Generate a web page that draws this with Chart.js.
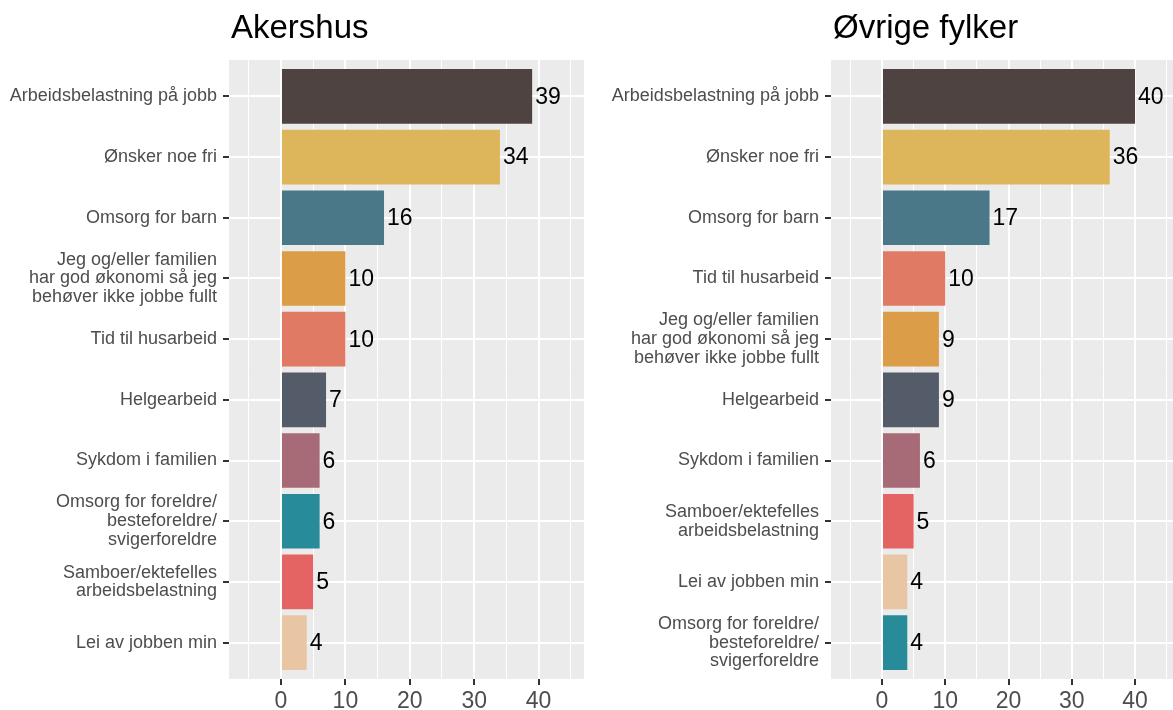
<!DOCTYPE html>
<html>
<head>
<meta charset="utf-8">
<script src="https://cdn.jsdelivr.net/npm/chart.js@4/dist/chart.umd.min.js"></script>
<style>
  html, body { margin: 0; padding: 0; background: #ffffff; }
  #wrap { position: relative; width: 1173px; height: 710px; overflow: hidden; }
  .panel { position: absolute; top: 0; height: 710px; }
  #left { left: 0; width: 600px; }
  #right { left: 600px; width: 573px; }
</style>
</head>
<body>
<div id="wrap">
  <div class="panel" id="left"><canvas id="akershus-chart"></canvas></div>
  <div class="panel" id="right"><canvas id="ovrige-chart"></canvas></div>
</div>
<script>
// Data: Akershus
const akershusLabels = [
  'Arbeidsbelastning på jobb',
  'Ønsker noe fri',
  'Omsorg for barn',
  ['Jeg og/eller familien', 'har god økonomi så jeg', 'behøver ikke jobbe fullt'],
  'Tid til husarbeid',
  'Helgearbeid',
  'Sykdom i familien',
  ['Omsorg for foreldre/', 'besteforeldre/', 'svigerforeldre'],
  ['Samboer/ektefelles', 'arbeidsbelastning'],
  'Lei av jobben min'
];
const akershusValues = [39, 34, 16, 10, 10, 7, 6, 6, 5, 4];

// Data: Øvrige fylker
const ovrigeLabels = [
  'Arbeidsbelastning på jobb',
  'Ønsker noe fri',
  'Omsorg for barn',
  'Tid til husarbeid',
  ['Jeg og/eller familien', 'har god økonomi så jeg', 'behøver ikke jobbe fullt'],
  'Helgearbeid',
  'Sykdom i familien',
  ['Samboer/ektefelles', 'arbeidsbelastning'],
  'Lei av jobben min',
  ['Omsorg for foreldre/', 'besteforeldre/', 'svigerforeldre']
];
const ovrigeValues = [40, 36, 17, 10, 9, 9, 6, 5, 4, 4];

// x axis breaks (major every 10, minor in between)
const xTicks = [-5, 0, 5, 10, 15, 20, 25, 30, 35, 40, 45];

// Colour per category (same in both panels)
const categoryColors = {
  'Arbeidsbelastning på jobb': '#4e4341',
  'Ønsker noe fri': '#ddb65c',
  'Omsorg for barn': '#4a7888',
  'Jeg og/eller familien': '#db9d48',
  'Tid til husarbeid': '#e07a65',
  'Helgearbeid': '#535c68',
  'Sykdom i familien': '#a76b77',
  'Omsorg for foreldre/': '#278b99',
  'Samboer/ektefelles': '#e46464',
  'Lei av jobben min': '#e8c5a3'
};

const FONT = '"Liberation Sans", Arial, Helvetica, sans-serif';

function colorFor(label) {
  const key = Array.isArray(label) ? label[0] : label;
  return categoryColors[key] || '#888888';
}

// gray ggplot panel
const panelBackground = {
  id: 'panelBackground',
  beforeDraw(chart) {
    const { ctx, chartArea } = chart;
    ctx.save();
    ctx.fillStyle = '#ebebeb';
    ctx.fillRect(chartArea.left, chartArea.top, chartArea.right - chartArea.left, chartArea.bottom - chartArea.top);
    ctx.restore();
  }
};

// panel title, left aligned with the plot area
const panelTitle = {
  id: 'panelTitle',
  afterDraw(chart, args, opts) {
    const { ctx, chartArea } = chart;
    ctx.save();
    ctx.font = '33px ' + FONT;
    ctx.fillStyle = '#000000';
    ctx.textAlign = 'left';
    ctx.textBaseline = 'alphabetic';
    ctx.fillText(opts.text, chartArea.left + 2, 37.5);
    ctx.restore();
  }
};

// numbers at the end of the bars
const valueLabels = {
  id: 'valueLabels',
  afterDatasetsDraw(chart) {
    const { ctx } = chart;
    const meta = chart.getDatasetMeta(0);
    const data = chart.data.datasets[0].data;
    ctx.save();
    ctx.font = '23px ' + FONT;
    ctx.fillStyle = '#000000';
    ctx.textAlign = 'left';
    ctx.textBaseline = 'middle';
    meta.data.forEach((bar, i) => {
      ctx.fillText(String(Math.round(data[i])), bar.x + 3, bar.y + 1);
    });
    ctx.restore();
  }
};

function makeChart(canvasId, title, labels, values, yWidth, xMin, xMax, padRight) {
  const el = document.getElementById(canvasId);
  return new Chart(el, {
    type: 'bar',
    data: {
      labels: labels,
      datasets: [{
        data: values,
        backgroundColor: labels.map(colorFor),
        borderWidth: 0,
        categoryPercentage: 0.9,
        barPercentage: 1
      }]
    },
    options: {
      indexAxis: 'y',
      responsive: true,
      maintainAspectRatio: false,
      animation: false,
      layout: { padding: { top: 60, right: padRight, bottom: 0, left: 0 } },
      scales: {
        x: {
          type: 'linear',
          min: xMin,
          max: xMax,
          afterBuildTicks(scale) {
            scale.ticks = xTicks.map(v => ({ value: v }));
          },
          afterFit(scale) { scale.height = 31; },
          border: { display: false },
          grid: {
            color: '#ffffff',
            lineWidth: ctx => (ctx.tick && ctx.tick.value % 10 === 0) ? 2 : 1,
            tickColor: ctx => (ctx.tick && ctx.tick.value % 10 === 0) ? '#333333' : 'rgba(0,0,0,0)',
            tickWidth: 2,
            tickLength: 6,
            drawTicks: true
          },
          ticks: {
            autoSkip: false,
            maxRotation: 0,
            padding: 3,
            color: '#4d4d4d',
            font: { family: FONT, size: 23 },
            callback: v => (v % 10 === 0 ? String(v) : '')
          }
        },
        y: {
          type: 'category',
          offset: true,
          afterBuildTicks(scale) {
            // ggplot style discrete expansion (0.6 on each side)
            scale._startValue = -0.6;
            scale._valueRange = scale.ticks.length + 0.2;
          },
          afterFit(scale) { scale.width = yWidth; },
          border: { display: false },
          grid: {
            offset: false,
            color: '#ffffff',
            lineWidth: 2,
            tickColor: '#333333',
            tickWidth: 2,
            tickLength: 6
          },
          ticks: {
            autoSkip: false,
            padding: 6,
            color: '#4d4d4d',
            font: { family: FONT, size: 18, lineHeight: 1.04 }
          }
        }
      },
      plugins: {
        legend: { display: false },
        tooltip: { enabled: false },
        title: { display: false },
        panelTitle: { text: title }
      }
    },
    plugins: [panelBackground, valueLabels, panelTitle]
  });
}

makeChart('akershus-chart', 'Akershus', akershusLabels, akershusValues, 229, -8.07, 47.05, 16);
makeChart('ovrige-chart', 'Øvrige fylker', ovrigeLabels, ovrigeValues, 231, -8.06, 46.0, 0);
</script>
</body>
</html>
